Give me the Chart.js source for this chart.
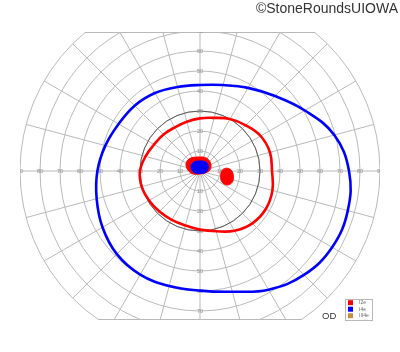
<!DOCTYPE html>
<html>
<head>
<meta charset="utf-8">
<script src="https://cdn.jsdelivr.net/npm/chart.js@4/dist/chart.umd.min.js"></script>
<style>
  body { margin: 0; background: #fff; }
  #wrap { position: relative; width: 400px; height: 352px; }
  .nota { position: absolute; font-family: 'Liberation Sans', Arial, sans-serif; color: #333; white-space: nowrap; }
</style>
</head>
<body>
<div id="wrap">
  <canvas id="campoVisivo"></canvas>
  <div class="nota" style="right:2px; top:0; font-size:14px; line-height:16px;">©StoneRoundsUIOWA</div>
  <div class="nota" style="left:322px; top:310px; font-size:9.5px; line-height:11px;">OD</div>
</div>
<script>
// Meridiani (gradi, antiorario da destra) e cerchi della griglia
const meridiani = [0, 15, 30, 45, 60, 75, 90, 105, 120, 135, 150, 165,
                   180, 195, 210, 225, 240, 255, 270, 285, 300, 315, 330, 345];
const cerchi = [10, 20, 30, 40, 50, 60, 70, 80, 90];
const tickOrizz = [10, 20, 30, 40, 50, 60, 70, 80, 90];
const tickVert = [10, 20, 30, 40, 50, 60, 70];

// Isoptere: eccentricita' (gradi) lungo ogni meridiano
const raggiI2e = [36, 36.2, 35, 32.3, 30, 27.5, 26.3, 25.5, 25.2, 25.8, 26.5, 28.2,
                  30, 30.2, 29.4, 28.7, 28.2, 28.2, 29.3, 31.2, 34.5, 37, 38, 37.5];
const raggiI4e = [74.5, 69.5, 60.5, 53, 48, 44.5, 43, 43.5, 45, 46.2, 47, 49,
                  51.3, 53.5, 56.3, 58.8, 59.8, 59.5, 59.8, 62.5, 68.5, 73.5, 76.3, 76.5];

// Zone centrali e macchia cieca (contorni in gradi)
const centroI2eX = [-7, -5.5, -1, 3.5, 5.5, 4.5, 0, -4.5];
const centroI2eY = [2.75, 6, 7, 6.3, 3, 0, -1.5, -1];
const centroI4eX = [-4.5, -3.3, 0, 3.2, 4.2, 3, 0, -3.2];
const centroI4eY = [2, 4.3, 5, 4.3, 2, -0.5, -1.25, -0.6];
const macchiaX = [10.3, 11.3, 13.5, 15.8, 16.7, 16, 13.5, 11];
const macchiaY = [-2.5, 0.6, 1.4, 0.2, -3, -5.8, -7, -5.5];

// Legenda
const nomiStimoli = ['I2e', 'I4e', 'III4e'];
const coloriStimoli = ['#ff0000', '#0000ff', '#d08a3c'];

const polare = raggi => meridiani.map((m, i) => ({
  x: raggi[i] * Math.cos(m * Math.PI / 180),
  y: raggi[i] * Math.sin(m * Math.PI / 180)
}));
const contorno = (xs, ys) => xs.map((v, i) => ({ x: v, y: ys[i] }));

// Griglia polare disegnata sotto i dati
const grigliaPolare = {
  id: 'grigliaPolare',
  beforeDatasetsDraw(chart) {
    const { ctx, chartArea: a, scales: { x, y } } = chart;
    const cx = x.getPixelForValue(0), cy = y.getPixelForValue(0);
    const px = d => x.getPixelForValue(d) - cx;
    const rMax = px(cerchi[cerchi.length - 1]);
    ctx.save();
    ctx.beginPath();
    ctx.rect(a.left, a.top, a.right - a.left, a.bottom - a.top);
    ctx.clip();
    ctx.strokeStyle = '#b9b9b9';
    ctx.lineWidth = 1;
    cerchi.forEach(r => {
      ctx.beginPath();
      ctx.arc(cx, cy, px(r), 0, 2 * Math.PI);
      ctx.stroke();
    });
    meridiani.forEach(m => {
      const t = m * Math.PI / 180;
      ctx.beginPath();
      ctx.moveTo(cx, cy);
      ctx.lineTo(cx + rMax * Math.cos(t), cy - rMax * Math.sin(t));
      ctx.stroke();
    });
    // bordi superiore e inferiore (taglio)
    [a.top + 0.5, a.bottom - 0.5].forEach(yy => {
      const dy = yy - cy;
      const half = Math.sqrt(rMax * rMax - dy * dy);
      ctx.beginPath();
      ctx.moveTo(cx - half, yy);
      ctx.lineTo(cx + half, yy);
      ctx.stroke();
    });
    // cerchio dei 30 gradi piu' scuro
    ctx.strokeStyle = '#5a5a5a';
    ctx.beginPath();
    ctx.arc(cx, cy, px(30), 0, 2 * Math.PI);
    ctx.stroke();
    // etichette
    ctx.fillStyle = '#8c8c8c';
    ctx.font = '5.5px "Liberation Sans", Arial, sans-serif';
    ctx.textAlign = 'center';
    ctx.textBaseline = 'middle';
    tickOrizz.forEach(v => {
      ctx.fillText(String(v), cx + px(v), cy);
      ctx.fillText(String(v), cx - px(v), cy);
    });
    tickVert.forEach(v => {
      ctx.fillText(String(v), cx, y.getPixelForValue(v));
      ctx.fillText(String(v), cx, y.getPixelForValue(-v));
    });
    ctx.restore();
  },
  afterDatasetsUpdate(chart) {
    // chiude le curve come un anello (spline continua)
    chart.data.datasets.forEach((ds, i) => {
      if (ds.chiuso) {
        const line = chart.getDatasetMeta(i).dataset;
        line._loop = true;
        line._fullLoop = true;
      }
    });
  }
};

const legendaStimoli = {
  id: 'legendaStimoli',
  afterDraw(chart) {
    const { ctx, chartArea: a } = chart;
    const x0 = a.right - 34.5, y0 = a.bottom - 20.5;
    ctx.save();
    ctx.fillStyle = '#fff';
    ctx.fillRect(x0, y0, 27, 21);
    ctx.strokeStyle = '#b8b8b8';
    ctx.lineWidth = 1;
    ctx.strokeRect(x0, y0, 27, 21);
    ctx.font = '5px "Liberation Sans", Arial, sans-serif';
    ctx.textBaseline = 'middle';
    nomiStimoli.forEach((n, i) => {
      const yc = y0 + 3.2 + i * 6.5;
      ctx.fillStyle = coloriStimoli[i];
      ctx.fillRect(x0 + 2.5, yc - 2.5, 5, 5);
      ctx.fillStyle = '#666';
      ctx.fillText(n, x0 + 13.5, yc);
    });
    ctx.restore();
  }
};

const ctx = document.getElementById('campoVisivo').getContext('2d');

new Chart(ctx, {
  type: 'scatter',
  data: {
    datasets: [
      { label: 'I4e centrale', data: contorno(centroI4eX, centroI4eY), chiuso: true,
        borderColor: coloriStimoli[1], backgroundColor: coloriStimoli[1], fill: 'shape', borderWidth: 1, order: 1 },
      { label: 'I2e centrale', data: contorno(centroI2eX, centroI2eY), chiuso: true,
        borderColor: coloriStimoli[0], backgroundColor: coloriStimoli[0], fill: 'shape', borderWidth: 1, order: 2 },
      { label: 'Macchia cieca', data: contorno(macchiaX, macchiaY), chiuso: true,
        borderColor: coloriStimoli[0], backgroundColor: coloriStimoli[0], fill: 'shape', borderWidth: 1, order: 3 },
      { label: 'I4e', data: polare(raggiI4e), chiuso: true,
        borderColor: coloriStimoli[1], borderWidth: 2.6, fill: false, order: 4 },
      { label: 'I2e', data: polare(raggiI2e), chiuso: true,
        borderColor: coloriStimoli[0], borderWidth: 2.6, fill: false, order: 5 }
    ]
  },
  options: {
    responsive: true,
    maintainAspectRatio: false,
    animation: false,
    layout: { padding: { left: 20, right: 20, top: 32, bottom: 32 } },
    elements: {
      line: { tension: 0.4 },
      point: { radius: 0, hoverRadius: 0 }
    },
    datasets: { scatter: { showLine: true } },
    plugins: {
      legend: { display: false },
      tooltip: { enabled: false }
    },
    scales: {
      x: { type: 'linear', min: -90, max: 90, display: false },
      y: { type: 'linear', min: -74.5, max: 69.5, display: false }
    }
  },
  plugins: [grigliaPolare, legendaStimoli]
});
</script>
</body>
</html>
